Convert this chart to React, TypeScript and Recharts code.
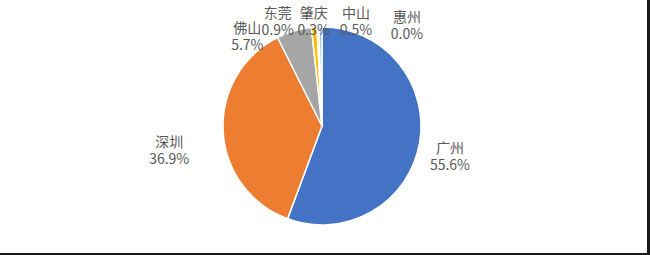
import { Cell, Pie, PieChart } from 'recharts';

const cities = ['广州', '深圳', '佛山', '东莞', '肇庆', '中山', '惠州'];
const shares = [55.6, 36.9, 5.7, 0.9, 0.3, 0.5, 0.0];
const sliceColors = ['#4472C4', '#ED7D31', '#A5A5A5', '#FFC000', '#5B9BD5', '#9DC3E6', '#264478'];

// Excel moved the labels around; these shift each one off its radial spot
const labelNudge: Array<[number, number]> = [
  [0, 7],
  [-23, 17],
  [-38, 35],
  [-34, 25],
  [-3, 25],
  [36, 25],
  [85, 29],
];

const data = cities.map((name, i) => ({ name, value: shares[i] }));

const RADIAN = Math.PI / 180;

function CityLabel(props: any) {
  const { cx, cy, midAngle, outerRadius, index, name, value } = props;
  const r = outerRadius + 31;
  const [dx, dy] = labelNudge[index] || [0, 0];
  const x = cx + r * Math.cos(-midAngle * RADIAN) + dx;
  const y = cy + r * Math.sin(-midAngle * RADIAN) + dy;
  return (
    <text
      x={x}
      y={y}
      textAnchor="middle"
      fill="#595959"
      fontSize={14}
      fontFamily="'Noto Sans CJK SC', 'Noto Sans', sans-serif"
    >
      <tspan x={x} dy={-3}>{name}</tspan>
      <tspan x={x} dy={17}>{Number(value).toFixed(1)}%</tspan>
    </text>
  );
}

export default function App() {
  return (
    <div
      style={{
        position: 'absolute',
        left: 0,
        top: 0,
        width: 650,
        height: 255,
        boxSizing: 'border-box',
        borderRight: '3px solid #1a1a1a',
        borderBottom: '2px solid #1a1a1a',
        background: '#fff',
      }}
    >
      <PieChart width={647} height={253} margin={{ top: 0, right: 0, bottom: 0, left: 0 }}>
        <Pie
          data={data}
          dataKey="value"
          nameKey="name"
          cx={322}
          cy={126}
          outerRadius={99}
          startAngle={90}
          endAngle={-270}
          stroke="#fff"
          strokeWidth={1.5}
          labelLine={false}
          label={CityLabel}
          isAnimationActive={false}
        >
          {data.map((_, i) => (
            <Cell key={i} fill={sliceColors[i]} />
          ))}
        </Pie>
      </PieChart>
    </div>
  );
}
